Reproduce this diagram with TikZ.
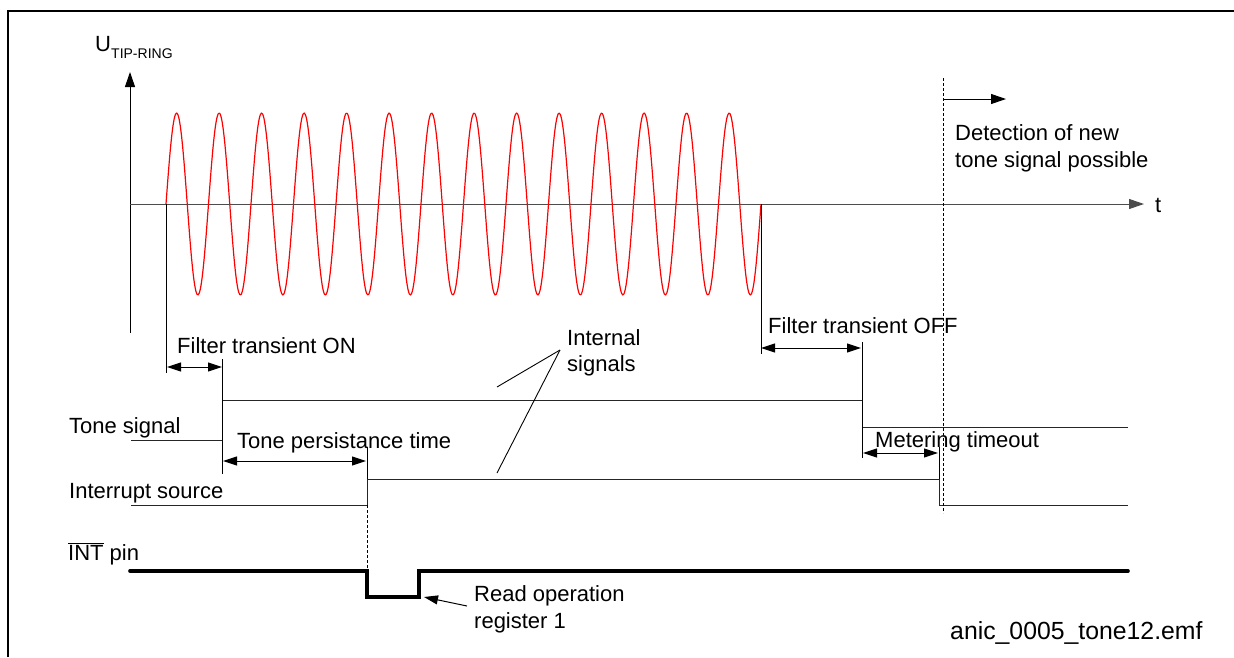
\documentclass[tikz,border=0pt]{standalone}
\usepackage{fontspec}
\setmainfont{Liberation Sans}
\usetikzlibrary{arrows.meta}
\begin{document}
\begin{tikzpicture}[x=1pt,y=-1pt,
  lbl/.style={anchor=base west, inner sep=0pt, font=\fontsize{22}{27}\selectfont},
  sig/.style={line width=1pt, black!85},
  thin/.style={line width=0.9pt, black},
  dimarrow/.style={line width=1pt, {Triangle[length=14pt,width=9pt]}-{Triangle[length=14pt,width=9pt]}},
  onearrow/.style={line width=1pt, -{Triangle[length=15pt,width=10pt]}},
  dashedline/.style={line width=0.8pt, dash pattern=on 3pt off 2pt},
  intline/.style={line width=3.6pt, line cap=round, line join=miter}]
\useasboundingbox (0,0) rectangle (1234,657);
% frame
\draw[line width=1.2pt] (8,657) -- (8,11) -- (1234,11);

% axes
\coordinate (yb) at (130,333);
\coordinate (yt) at (130,72);
\draw[onearrow] (yb) -- (yt);
\coordinate (o) at (130,204);
\coordinate (te) at (1144,204);
\draw[onearrow, black!70] (o) -- (te);
\node[lbl, anchor=base west] (t) at (1155,212) {t};
\node[lbl] (ulabel) at (95,51) {U};
\node[anchor=base west, inner sep=0pt, font=\fontsize{14}{16}\selectfont] (usub) at (111,58) {TIP-RING};

% sine wave
\draw[red, line width=1.2pt, line join=round] plot[domain=0:595, samples=500, smooth] ({166+\x}, {204-91*sin(\x/42.5*360)});

% vertical markers from the wave
\draw[thin] (166,204) -- (166,373);
\draw[thin] (761,204) -- (761,354);

% Filter transient ON
\draw[dimarrow] (167,367) -- (222,367);
\node[lbl] (fon) at (177,353) {Filter transient ON};

% Tone signal
\node[lbl] (tsl) at (69,433) {Tone signal};
\draw[sig] (131,440) -- (222,440) -- (222,400) -- (862,400) -- (862,427) -- (1128,427);
\draw[thin] (222,359) -- (222,474);

% Tone persistance time
\draw[dimarrow] (223,461) -- (366,461);
\node[lbl] (tpt) at (237,448) {Tone persistance time};

% Interrupt source
\node[lbl] (isl) at (69,498) {Interrupt source};
\draw[sig] (131,505) -- (367,505) -- (367,479) -- (939,479) -- (939,505) -- (1128,505);
\draw[thin] (367,447) -- (367,479);

% Filter transient OFF
\draw[dimarrow] (761,348) -- (861,348);
\draw[thin] (862,342) -- (862,458);
\node[lbl] (foff) at (768,333) {Filter transient OFF};

% Metering timeout
\draw[dimarrow] (863,453) -- (938,453);
\draw[thin] (939,447) -- (939,479);
\node[lbl] (mt) at (875,447) {Metering timeout};

% detection dashed line
\coordinate (dtop) at (943,78);
\coordinate (dbot) at (943,513);
\draw[dashedline] (dtop) -- (dbot);
\coordinate (da) at (943,99);
\coordinate (db) at (1006,99);
\draw[onearrow] (da) -- (db);
\node[lbl] (det1) at (955,140) {Detection of new};
\node[lbl] (det2) at (955,167) {tone signal possible};

% dashed from interrupt to INT
\draw[dashedline] (367,505) -- (367,571);

% INT pin
\node[lbl] (intl) at (68,560) {$\overline{\hbox{INT}}$ pin};
\draw[intline] (130,571) -- (367,571) -- (367,597) -- (419,597) -- (419,571) -- (1128,571);

% Read operation
\coordinate (rs) at (467,606);
\coordinate (rt) at (424,597);
\draw[line width=1pt, -{Triangle[length=14pt,width=9pt]}] (rs) -- (rt);
\node[lbl] (rd1) at (474,601) {Read operation};
\node[lbl] (rd2) at (474,628) {register 1};

% Internal signals
\node[lbl] (is1) at (567,345) {Internal};
\node[lbl] (is2) at (567,371) {signals};
\coordinate (ip) at (560,350);
\draw[thin] (ip) -- (497,387);
\draw[thin] (ip) -- (497,473);

% file name
\node[lbl, font=\fontsize{24.8}{29}\selectfont] (fn) at (950,639) {anic\_0005\_tone12.emf};
\end{tikzpicture}
\end{document}
